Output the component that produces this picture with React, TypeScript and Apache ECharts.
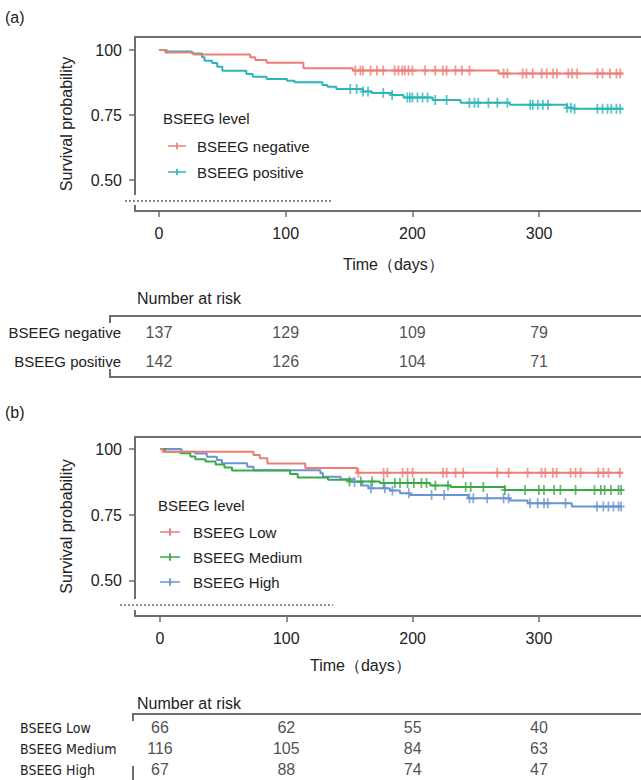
import React, { useEffect, useRef } from "react";
import * as echarts from "echarts";

// ---------- data ----------
const X_TICKS = [0, 100, 200, 300];
const Y_TICKS = [0.5, 0.75, 1];

// (a) BSEEG negative / positive : step times (days) and survival
const A_NEG_T = [0, 5, 27, 72, 76, 85, 114, 153, 268, 366];
const A_NEG_S = [1, 0.99, 0.983, 0.972, 0.962, 0.951, 0.93, 0.921, 0.91, 0.91];
const A_NEG_CENSOR = [155, 159, 161, 167, 172, 177, 186, 189, 192, 194, 197, 200, 210, 218, 224, 227, 234, 239, 245, 272, 275, 287, 290, 295, 302, 306, 311, 314, 323, 326, 330, 346, 350, 356, 361, 364];

const A_POS_T = [0, 6, 26, 34, 36, 42, 46, 50, 69, 74, 85, 101, 107, 129, 133, 140, 161, 168, 184, 193, 216, 238, 277, 322, 327, 366];
const A_POS_S = [1, 0.994, 0.987, 0.972, 0.959, 0.95, 0.936, 0.92, 0.908, 0.897, 0.888, 0.882, 0.876, 0.865, 0.859, 0.85, 0.84, 0.835, 0.827, 0.817, 0.808, 0.797, 0.789, 0.778, 0.774, 0.774];
const A_POS_CENSOR = [151, 156, 161, 165, 177, 184, 196, 198, 200, 204, 208, 212, 218, 227, 245, 249, 252, 260, 267, 275, 293, 295, 299, 303, 307, 322, 325, 328, 346, 350, 354, 357, 361, 364];

// (b) BSEEG Low / Medium / High
const B_LOW_T = [0, 2, 74, 79, 85, 115, 156, 366];
const B_LOW_S = [1, 0.99, 0.977, 0.965, 0.945, 0.928, 0.91, 0.91];
const B_LOW_CENSOR = [157, 177, 180, 192, 196, 200, 224, 227, 234, 240, 267, 276, 291, 302, 305, 311, 314, 325, 329, 333, 347, 351, 355, 364];

const B_MED_T = [0, 4, 16, 24, 28, 36, 44, 51, 57, 103, 109, 133, 150, 174, 214, 230, 273, 366];
const B_MED_S = [1, 0.99, 0.984, 0.972, 0.961, 0.953, 0.941, 0.93, 0.919, 0.905, 0.892, 0.884, 0.877, 0.871, 0.862, 0.856, 0.845, 0.845];
const B_MED_CENSOR = [150, 159, 168, 177, 186, 190, 196, 201, 207, 211, 218, 228, 242, 246, 256, 273, 289, 300, 304, 312, 317, 329, 344, 349, 352, 357, 363, 365];

const B_HIGH_T = [0, 17, 28, 37, 45, 49, 69, 74, 127, 129, 143, 154, 160, 165, 182, 190, 198, 244, 277, 291, 326, 366];
const B_HIGH_S = [1, 0.99, 0.983, 0.971, 0.958, 0.946, 0.933, 0.92, 0.908, 0.895, 0.885, 0.875, 0.862, 0.851, 0.843, 0.832, 0.826, 0.813, 0.805, 0.795, 0.782, 0.782];
const B_HIGH_CENSOR = [154, 167, 178, 184, 197, 215, 225, 245, 248, 259, 272, 276, 293, 299, 304, 307, 321, 346, 351, 355, 359, 363, 365];

// number at risk
const RISK_TIMES = [0, 100, 200, 300];
const A_GROUPS = ["BSEEG negative", "BSEEG positive"];
const A_RISK = [
  [137, 129, 109, 79],
  [142, 126, 104, 71],
];
const B_GROUPS = ["BSEEG Low", "BSEEG Medium", "BSEEG High"];
const B_RISK = [
  [66, 62, 55, 40],
  [116, 105, 84, 63],
  [67, 88, 74, 47],
];

// ---------- styles ----------
const FONT = "'Liberation Sans', Arial, Helvetica, sans-serif";
const NARROW = "'Liberation Sans Narrow', 'DejaVu Sans Condensed', 'Liberation Sans', sans-serif";
const TXT = "#222";
const AXIS = "#6e6e6e";
const RED = "#ef7d75";
const TEAL = "#2db5b8";
const GREEN = "#3aa948";
const BLUE = "#6b93d3";

const CENSOR_SYMBOL = "path://M4,0h2v10h-2z M1,4h8v2h-8z";
const LEGEND_ICON = "path://M0,4.1h22v1.8h-22z M10,1h2v8h-2z";

function survAt(ts: number[], ss: number[], t: number) {
  let v = ss[0];
  for (let i = 0; i < ts.length; i++) if (ts[i] <= t) v = ss[i];
  return v;
}

function curveSeries(name: string, color: string, ts: number[], ss: number[], cens: number[], xi: number, yi: number) {
  return [
    {
      name,
      type: "line",
      step: "end",
      xAxisIndex: xi,
      yAxisIndex: yi,
      showSymbol: false,
      symbol: "none",
      color,
      lineStyle: { color, width: 2 },
      data: ts.map((t, i) => [t, ss[i]]),
      z: 3,
    },
    {
      name: name + " censor",
      type: "scatter",
      xAxisIndex: xi,
      yAxisIndex: yi,
      symbol: CENSOR_SYMBOL,
      symbolSize: [7, 10],
      itemStyle: { color },
      data: cens.map((t) => [t, survAt(ts, ss, t)]),
      z: 4,
    },
  ];
}

function riskSeries(groups: string[], risk: number[][], xi: number, yi: number) {
  const data: any[] = [];
  groups.forEach((g, gi) => {
    RISK_TIMES.forEach((t, ti) => data.push([t, g, risk[gi][ti]]));
  });
  return {
    type: "scatter",
    xAxisIndex: xi,
    yAxisIndex: yi,
    symbolSize: 1,
    itemStyle: { color: "rgba(0,0,0,0)" },
    label: {
      show: true,
      position: "inside",
      formatter: (p: any) => String(p.value[2]),
      fontSize: 16,
      color: TXT,
      fontFamily: FONT,
    },
    data,
  };
}

const xMain = (gridIndex: number, min: number, max: number) => ({
  type: "value",
  gridIndex,
  min,
  max,
  axisLine: { show: true, onZero: false, lineStyle: { color: AXIS, width: 2 } },
  axisTick: { show: true, customValues: X_TICKS, length: 6, lineStyle: { color: AXIS, width: 1.5 } },
  axisLabel: { customValues: X_TICKS, fontSize: 16, color: TXT, margin: 14, fontFamily: FONT },
  splitLine: { show: false },
});
const xTop = (gridIndex: number, min: number, max: number) => ({
  type: "value",
  gridIndex,
  position: "top",
  min,
  max,
  axisLine: { show: true, onZero: false, lineStyle: { color: AXIS, width: 2 } },
  axisTick: { show: false },
  axisLabel: { show: false },
  splitLine: { show: false },
});
const xHidden = (gridIndex: number, min: number, max: number) => ({
  type: "value",
  gridIndex,
  min,
  max,
  show: false,
  splitLine: { show: false },
});
const yMain = (gridIndex: number, min: number, max: number) => ({
  type: "value",
  gridIndex,
  min,
  max,
  name: "Survival probability",
  nameLocation: "middle",
  nameGap: 61,
  nameTextStyle: { fontSize: 16, color: TXT, fontFamily: FONT },
  axisLine: { show: true, onZero: false, lineStyle: { color: AXIS, width: 2 } },
  axisTick: { show: true, customValues: Y_TICKS, length: 6, lineStyle: { color: AXIS, width: 1.5 } },
  axisLabel: {
    customValues: Y_TICKS,
    formatter: (v: number) => (v === 1 ? "100" : v.toFixed(2)),
    fontSize: 16,
    color: TXT,
    margin: 13,
    fontFamily: FONT,
  },
  splitLine: { show: false },
});

const txt = (text: string, x: number, y: number, size = 15, family = FONT, align = "left") => ({
  type: "text",
  x,
  y,
  z: 50,
  style: { text, fontSize: size, fontFamily: family, fill: TXT, verticalAlign: "middle", align },
});
const seg = (x1: number, y1: number, x2: number, y2: number, extra: any = {}) => ({
  type: "line",
  z: 60,
  shape: { x1, y1, x2, y2 },
  style: { stroke: AXIS, lineWidth: 2, ...extra },
});
const gap = (x: number, y: number, w: number, h: number) => ({
  type: "rect",
  z: 55,
  shape: { x, y, width: w, height: h },
  style: { fill: "#fff" },
});

export default function App() {
  const ref = useRef<HTMLDivElement>(null);
  useEffect(() => {
    if (!ref.current) return;
    const chart = echarts.init(ref.current, undefined, { renderer: "svg" });
    const AXMIN = -18.9, AXMAX = 380.4;
    const BXMIN = -19.8, BXMAX = 380.8;
    const legendText = (pad: number) => ({ fontSize: 15, color: TXT, fontFamily: FONT, padding: [0, 0, 0, pad], lineHeight: 16 });
    const option: any = {
      animation: false,
      backgroundColor: "#fff",
      grid: [
        { left: 135, top: 37, width: 506, height: 174 },
        { left: 135, top: 318, width: 506, height: 58 },
        { left: 135, top: 437, width: 506, height: 179 },
        { left: 135, top: 717, width: 506, height: 66 },
      ],
      xAxis: [
        xMain(0, AXMIN, AXMAX),
        xTop(0, AXMIN, AXMAX),
        xHidden(1, AXMIN, AXMAX),
        xMain(2, BXMIN, BXMAX),
        xTop(2, BXMIN, BXMAX),
        xHidden(3, BXMIN, BXMAX),
      ],
      yAxis: [
        yMain(0, 0.3808, 1.05),
        {
          type: "category",
          gridIndex: 1,
          data: A_GROUPS,
          inverse: true,
          axisLine: { show: false },
          axisTick: { show: false },
          axisLabel: { fontSize: 15, color: TXT, margin: 14, fontFamily: FONT },
        },
        yMain(2, 0.3674, 1.0455),
        {
          type: "category",
          gridIndex: 3,
          data: B_GROUPS,
          inverse: true,
          axisLine: { show: false },
          axisTick: { show: false },
          axisLabel: { fontSize: 14, color: TXT, margin: 115, align: "left", fontFamily: NARROW },
        },
      ],
      legend: [
        {
          orient: "vertical",
          left: 168,
          top: 138,
          padding: 0,
          itemWidth: 18,
          itemHeight: 10,
          itemGap: 10,
          selectedMode: false,
          icon: LEGEND_ICON,
          textStyle: legendText(6),
          data: [
            { name: "BSEEG negative", itemStyle: { color: RED } },
            { name: "BSEEG positive", itemStyle: { color: TEAL } },
          ],
        },
        {
          orient: "vertical",
          left: 160,
          top: 524,
          padding: 0,
          itemWidth: 20,
          itemHeight: 10,
          itemGap: 9,
          selectedMode: false,
          icon: LEGEND_ICON,
          textStyle: legendText(8),
          data: [
            { name: "BSEEG Low", itemStyle: { color: RED } },
            { name: "BSEEG Medium", itemStyle: { color: GREEN } },
            { name: "BSEEG High", itemStyle: { color: BLUE } },
          ],
        },
      ],
      series: [
        ...curveSeries("BSEEG positive", TEAL, A_POS_T, A_POS_S, A_POS_CENSOR, 0, 0),
        ...curveSeries("BSEEG negative", RED, A_NEG_T, A_NEG_S, A_NEG_CENSOR, 0, 0),
        riskSeries(A_GROUPS, A_RISK, 2, 1),
        ...curveSeries("BSEEG High", BLUE, B_HIGH_T, B_HIGH_S, B_HIGH_CENSOR, 3, 2),
        ...curveSeries("BSEEG Medium", GREEN, B_MED_T, B_MED_S, B_MED_CENSOR, 3, 2),
        ...curveSeries("BSEEG Low", RED, B_LOW_T, B_LOW_S, B_LOW_CENSOR, 3, 2),
        riskSeries(B_GROUPS, B_RISK, 5, 3),
      ],
      graphic: [
        txt("(a)", 5, 17, 16),
        txt("(b)", 5, 412, 16),
        txt("BSEEG level", 163, 118),
        txt("BSEEG level", 158, 505),
        txt("Time（days）", 343, 264, 16),
        txt("Time（days）", 310, 665, 16),
        txt("Number at risk", 137, 298, 16),
        txt("Number at risk", 137, 703, 16),
        // axis breaks + dotted lines
        gap(132, 195, 6, 10),
        seg(125, 201, 333, 201, { stroke: "#8a8a8a", lineDash: [2, 2] }),
        gap(132, 599, 6, 11),
        seg(120, 605, 333, 605, { stroke: "#8a8a8a", lineDash: [2, 2] }),
        // risk table (a) frame
        seg(110, 316, 641, 316),
        seg(110, 377, 641, 377),
        seg(110, 315, 110, 323),
        seg(110, 369, 110, 378),
        // risk table (b) frame
        seg(133, 714, 641, 714),
        seg(133, 713, 133, 721),
        seg(133, 766, 133, 780),
      ],
    };
    chart.setOption(option);
    return () => chart.dispose();
  }, []);
  return (
    <div
      ref={ref}
      style={{ position: "absolute", left: 0, top: 0, width: 641, height: 780, background: "#fff" }}
    />
  );
}
